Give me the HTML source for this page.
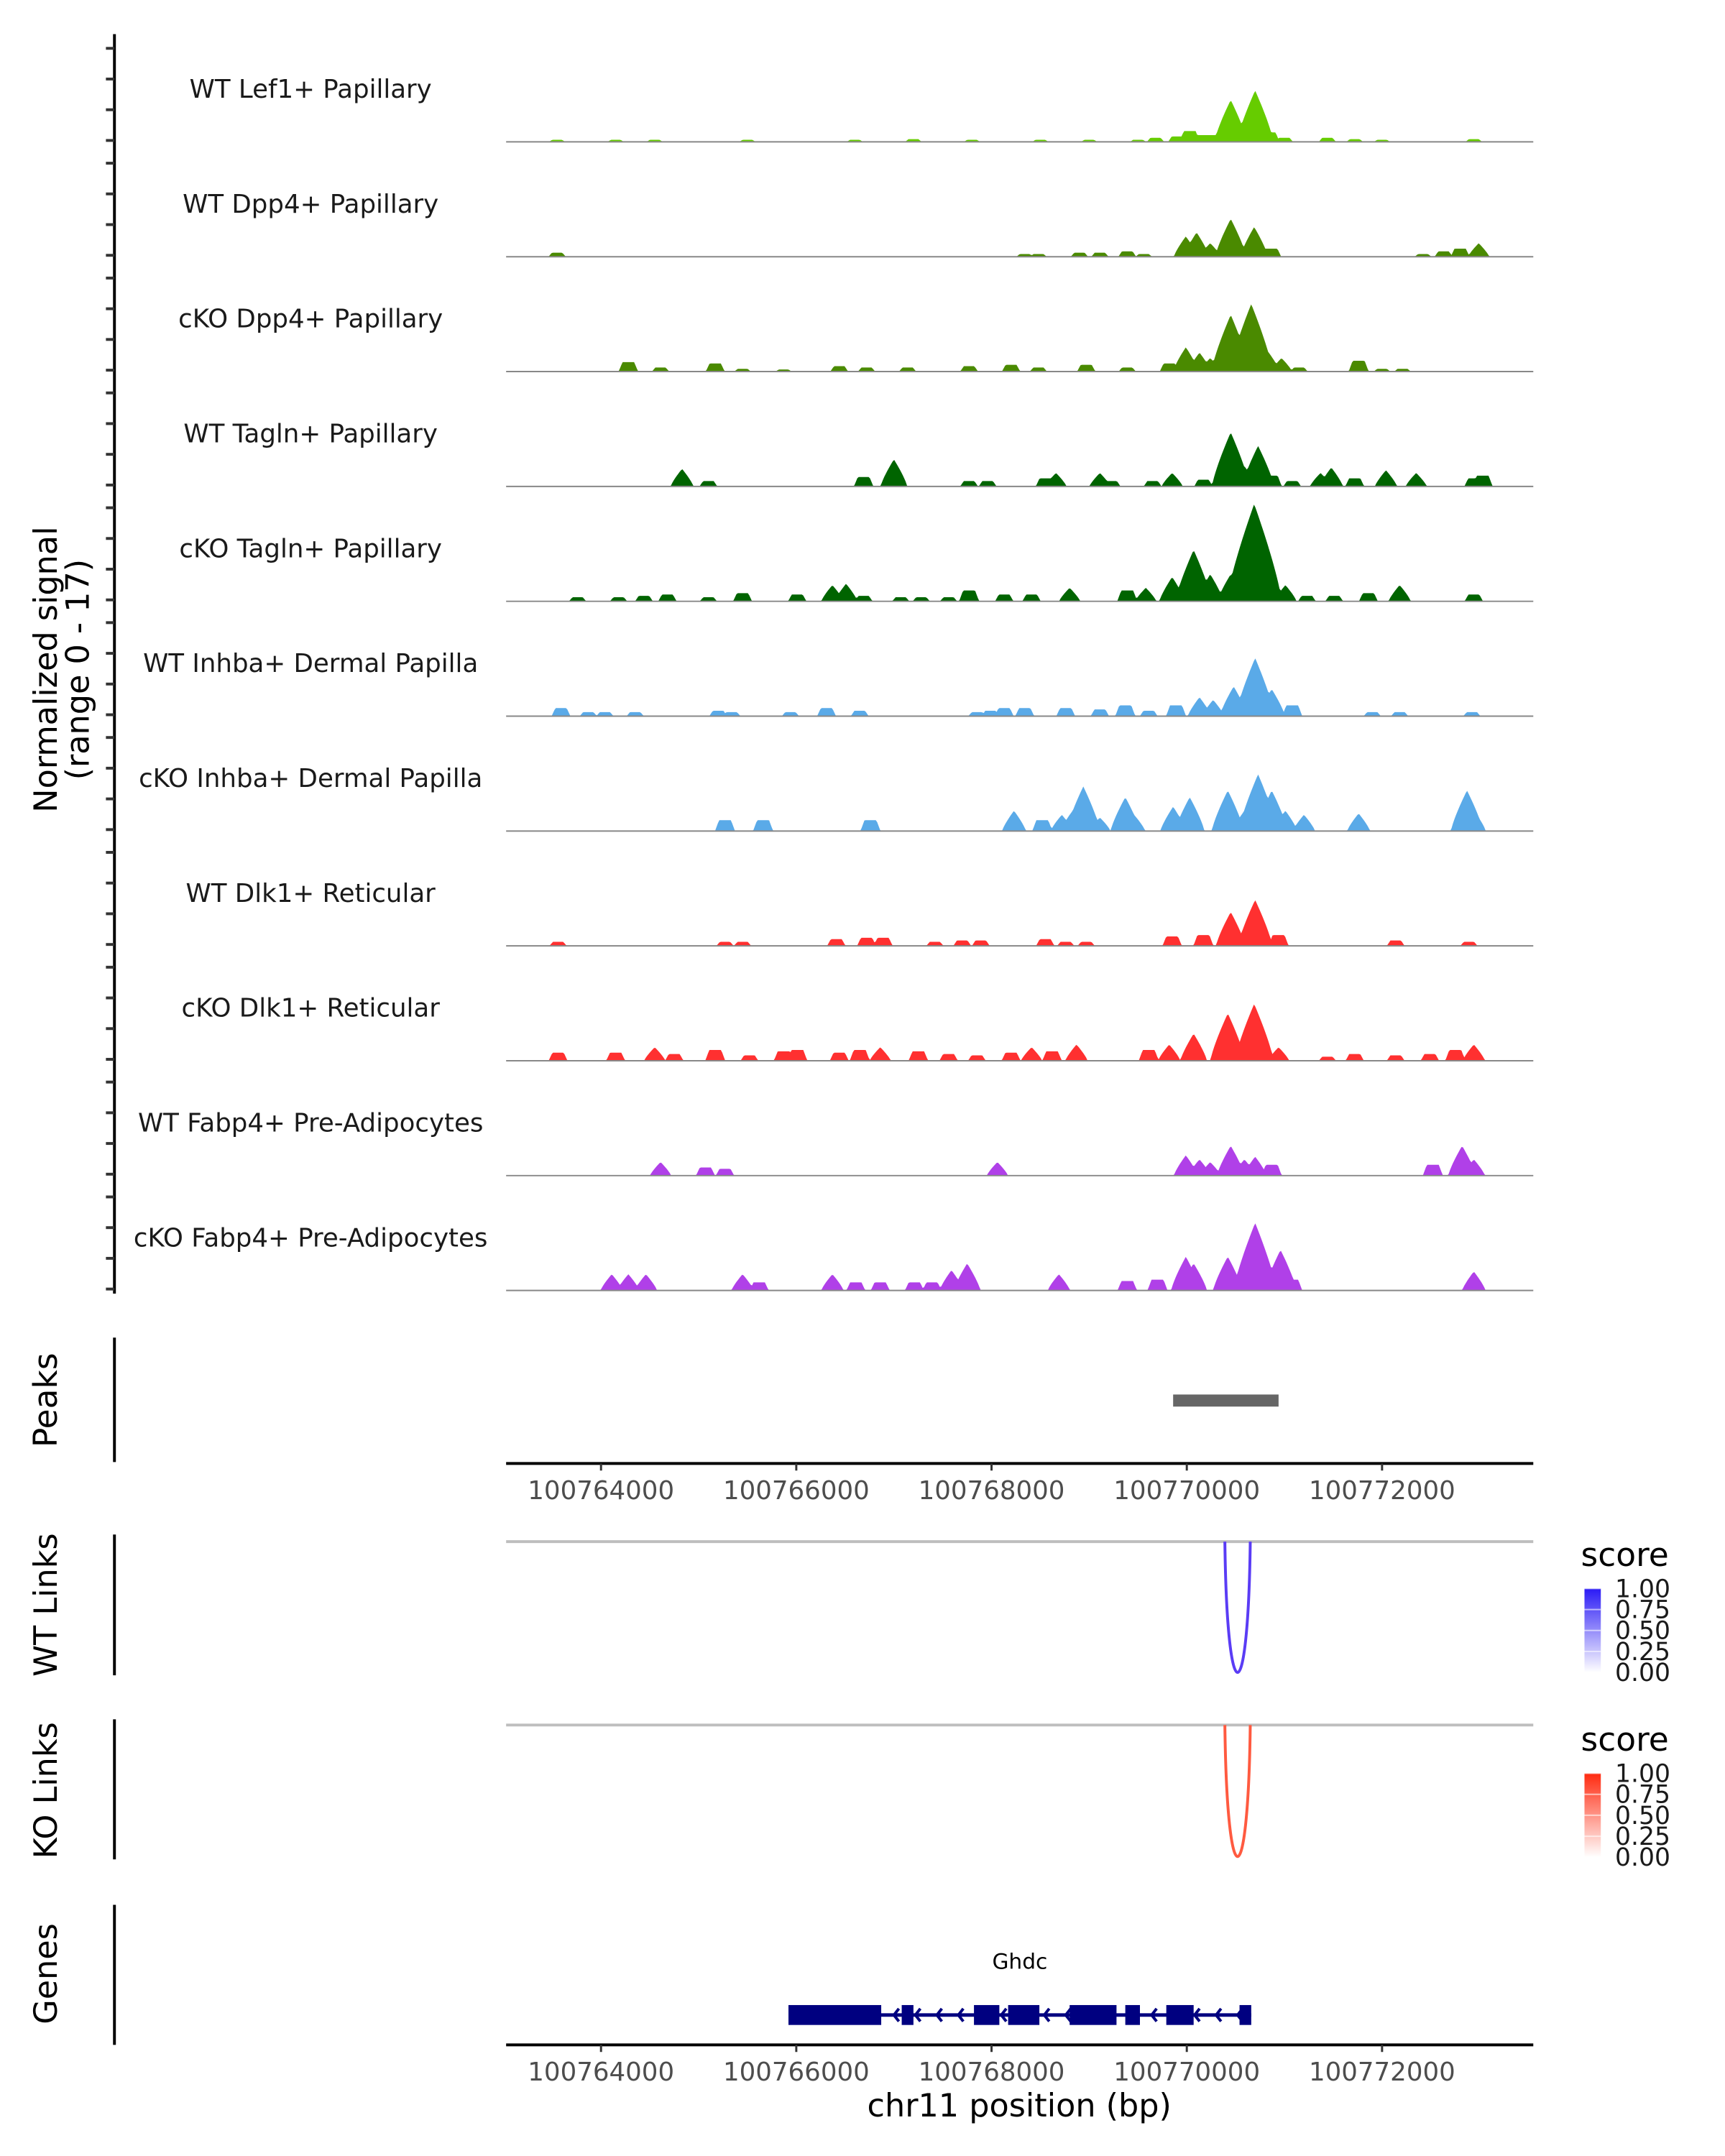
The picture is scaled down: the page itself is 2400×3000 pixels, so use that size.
<!DOCTYPE html>
<html><head><meta charset="utf-8"><style>
html,body{margin:0;padding:0;background:#fff;}
svg{display:block;font-family:"DejaVu Sans","Liberation Sans",sans-serif;}
</style></head><body>
<svg id="chart" width="2400" height="3000" viewBox="0 0 2400 3000" xmlns="http://www.w3.org/2000/svg">
<g transform="scale(0.989)">
<g id="static">
  <text transform="translate(80,942) rotate(-90)" text-anchor="middle" font-size="45" fill="#000">Normalized signal</text>
  <text transform="translate(125,942) rotate(-90)" text-anchor="middle" font-size="45" fill="#000">(range 0 - 17)</text>
  <text transform="translate(80,1970) rotate(-90)" text-anchor="middle" font-size="46" fill="#000">Peaks</text>
  <text transform="translate(80,2258) rotate(-90)" text-anchor="middle" font-size="45" fill="#000">WT Links</text>
  <text transform="translate(80,2519) rotate(-90)" text-anchor="middle" font-size="45" fill="#000">KO Links</text>
  <text transform="translate(80,2777) rotate(-90)" text-anchor="middle" font-size="45" fill="#000">Genes</text>
  <line x1="161" y1="1882" x2="161" y2="2057" stroke="#000" stroke-width="4"/>
  <line x1="161" y1="2159" x2="161" y2="2357" stroke="#000" stroke-width="4"/>
  <line x1="161" y1="2419" x2="161" y2="2616" stroke="#000" stroke-width="4"/>
  <line x1="161" y1="2680" x2="161" y2="2877" stroke="#000" stroke-width="4"/>
  <line x1="161" y1="48" x2="161" y2="1820" stroke="#000" stroke-width="4"/>
  <text x="1434" y="2978" text-anchor="middle" font-size="45" fill="#000">chr11 position (bp)</text>
  <defs>
    <linearGradient id="gblue" x1="0" y1="1" x2="0" y2="0"><stop offset="0" stop-color="#ffffff"/><stop offset="1" stop-color="#2a1af5"/></linearGradient>
    <linearGradient id="gred" x1="0" y1="1" x2="0" y2="0"><stop offset="0" stop-color="#ffffff"/><stop offset="1" stop-color="#ff2a10"/></linearGradient>
  </defs>
  <text x="2224" y="2203" font-size="46" fill="#000">score</text>
  <rect x="2229" y="2235" width="23" height="118" fill="url(#gblue)"/>
  <text x="2224" y="2463" font-size="46" fill="#000">score</text>
  <rect x="2229" y="2495" width="23" height="118" fill="url(#gred)"/>
</g>
<g id="dyn"></g>
</g>
</svg>
<script>
const regionStart = 3.028, regionEnd = 13.549;
const xTicks = [4, 6, 8, 10, 12];
const xTickLabels = ["100764000","100766000","100768000","100770000","100772000"];
const trackNames = ["WT Lef1+ Papillary","WT Dpp4+ Papillary","cKO Dpp4+ Papillary","WT Tagln+ Papillary","cKO Tagln+ Papillary","WT Inhba+ Dermal Papilla","cKO Inhba+ Dermal Papilla","WT Dlk1+ Reticular","cKO Dlk1+ Reticular","WT Fabp4+ Pre-Adipocytes","cKO Fabp4+ Pre-Adipocytes"];
const trackColors = ["#66cc00","#4a8a00","#4a8a00","#006400","#006400","#5aaae8","#5aaae8","#ff3030","#ff3030","#b040e8","#b040e8"];
const signalMax = 17;
const t1 = [[3.55,.3],[4.15,.3],[4.55,.3],[5.5,.3],[6.6,.3],[7.2,.4],[7.8,.3],[8.5,.3],[9.0,.3],[9.5,.3],[9.68,.6],[9.9,.8],[10.03,1.6],[10.15,1.0],[10.24,1.0],[10.45,6.2],[10.58,1.6],[10.70,7.6],[10.85,1.4],[11.0,.6],[11.44,.6],[11.72,.4],[12.0,.3],[12.94,.4]];
const t2 = [[3.55,.6],[8.34,.4],[8.48,.4],[8.9,.6],[9.11,.6],[9.39,.8],[9.56,.4],[9.99,3.0],[10.1,3.6],[10.24,2.0],[10.45,5.6],[10.69,4.4],[10.87,1.2],[12.42,.4],[12.63,.8],[12.8,1.2],[12.99,2.0]];
const t3 = [[4.28,1.4],[4.61,.6],[5.17,1.2],[5.45,.4],[5.87,.3],[6.44,.8],[6.72,.6],[7.14,.6],[7.77,.8],[8.2,1.0],[8.48,.6],[8.97,1.0],[9.39,.6],[9.82,1.2],[9.99,3.6],[10.13,2.8],[10.24,2.0],[10.45,8.4],[10.66,10.0],[10.83,3.0],[10.97,2.0],[11.15,.6],[11.76,1.6],[12.0,.4],[12.21,.4]];
const t4 = [[4.83,2.6],[5.1,.8],[6.69,1.4],[7.0,4.0],[7.77,.8],[7.96,.8],[8.55,1.2],[8.66,2.0],[9.11,2.0],[9.23,.8],[9.65,.8],[9.85,2.0],[10.17,1.0],[10.45,8.0],[10.59,3.0],[10.73,6.0],[10.87,1.6],[11.08,.8],[11.37,2.0],[11.48,2.8],[11.72,1.2],[12.04,2.4],[12.35,2.0],[12.94,1.2],[13.03,1.6]];
const t5 = [[3.76,.6],[4.18,.6],[4.44,.8],[4.68,1.0],[5.1,.6],[5.45,1.2],[6.01,1.0],[6.37,2.4],[6.51,2.6],[6.69,.8],[7.07,.6],[7.28,.6],[7.56,.6],[7.77,1.6],[8.13,1.0],[8.41,1.0],[8.8,2.0],[9.39,1.6],[9.58,2.0],[9.85,3.6],[10.07,7.6],[10.24,4.0],[10.45,4.0],[10.69,14.4],[10.8,6.0],[11.01,2.4],[11.23,.8],[11.51,.8],[11.86,1.2],[12.18,2.4],[12.94,1.0]];
const t6 = [[3.59,1.2],[3.87,.6],[4.04,.6],[4.35,.6],[5.2,.8],[5.34,.6],[5.94,.6],[6.31,1.2],[6.65,.8],[7.85,.6],[7.99,.8],[8.13,1.2],[8.34,1.2],[8.76,1.2],[9.11,1.0],[9.37,1.6],[9.61,.8],[9.89,1.6],[10.13,2.8],[10.27,2.4],[10.48,4.4],[10.7,8.6],[10.87,4.0],[11.08,1.6],[11.9,.6],[12.18,.6],[12.92,.6]];
const t7 = [[5.27,1.6],[5.66,1.6],[6.76,1.6],[8.23,3.0],[8.52,1.6],[8.72,2.4],[8.83,3.0],[8.94,6.6],[9.11,2.0],[9.37,5.0],[9.46,2.4],[9.86,3.6],[10.03,5.0],[10.42,6.0],[10.59,3.0],[10.73,8.4],[10.87,6.0],[11.01,3.0],[11.2,2.4],[11.76,2.6],[12.87,6.0],[12.94,3.0]];
const t8 = [[3.56,.6],[5.27,.6],[5.45,.6],[6.41,1.0],[6.72,1.2],[6.89,1.2],[7.42,.6],[7.7,.8],[7.89,.8],[8.55,1.0],[8.76,.6],[8.97,.6],[9.85,1.4],[10.17,1.6],[10.45,5.0],[10.7,6.8],[10.94,1.6],[12.14,.8],[12.89,.6]];
const t9 = [[3.56,1.2],[4.15,1.2],[4.55,2.0],[4.75,1.0],[5.17,1.6],[5.52,.8],[5.87,1.4],[6.01,1.6],[6.44,1.2],[6.65,1.6],[6.86,2.0],[7.25,1.4],[7.56,1.0],[7.85,.8],[8.2,1.2],[8.41,2.0],[8.62,1.4],[8.87,2.4],[9.61,1.6],[9.82,2.4],[10.07,4.0],[10.42,7.0],[10.69,8.4],[10.94,2.0],[11.44,.6],[11.72,1.0],[12.14,.8],[12.49,1.0],[12.75,1.6],[12.94,2.4]];
const t10 = [[4.61,2.0],[5.07,1.2],[5.27,1.0],[8.06,2.0],[9.99,3.0],[10.13,2.4],[10.24,2.0],[10.45,4.4],[10.59,2.4],[10.7,2.8],[10.87,1.6],[12.52,1.6],[12.82,4.4],[12.94,2.4]];
const t11 = [[4.11,2.4],[4.28,2.4],[4.46,2.4],[5.45,2.4],[5.62,1.2],[6.37,2.4],[6.61,1.2],[6.86,1.2],[7.21,1.2],[7.39,1.2],[7.59,3.0],[7.75,4.0],[8.69,2.4],[9.39,1.4],[9.7,1.6],[9.99,5.0],[10.07,4.0],[10.42,5.0],[10.55,2.4],[10.7,10.0],[10.8,5.0],[10.96,6.0],[11.08,1.6],[12.94,2.8]];
const tracks = [t1,t2,t3,t4,t5,t6,t7,t8,t9,t10,t11];
const peakRegion = [9.86, 10.94];
const wtLink = [10.39, 10.65];
const koLink = [10.39, 10.65];
const geneName = "Ghdc";
const geneSpan = [5.92, 10.66];
const exons = [[5.92,6.87],[7.08,7.2],[7.82,8.08],[8.17,8.49],[8.8,9.28],[9.37,9.52],[9.79,10.07],[10.54,10.66]];
const legendTicks = [1.00,0.75,0.50,0.25,0.00];

const NS = "http://www.w3.org/2000/svg";
const g = document.getElementById("dyn");
const X0 = 712, X1 = 2157;
function xs(kb){ return X0 + (kb - regionStart) / (regionEnd - regionStart) * (X1 - X0); }
const trackTop = 38, trackH = 161.6;
function baseY(i){ return trackTop + (i+1)*trackH; }
function ys(i, v){ return baseY(i) - v / signalMax * trackH; }
function mk(tag, attrs, parent){
  const e = document.createElementNS(NS, tag);
  for (const k in attrs) e.setAttribute(k, attrs[k]);
  (parent||g).appendChild(e); return e;
}

for (let i = 0; i < 11; i++){
  for (let k = 0; k < 4; k++){
    const y = baseY(i) - 2 - k * 43.2;
    const t = mk("line",{x1:149,x2:161,y1:y,y2:y,stroke:"#333","stroke-width":4});
    
    
  }
}

tracks.forEach((peaks, i) => {
  const pts = [];
  for (let px = X0; px <= X1; px += 2){
    const kb = regionStart + (px - X0) / (X1 - X0) * (regionEnd - regionStart);
    let v = 0;
    peaks.forEach(p => {
      const w = 0.08 + 0.014 * p[1];
      const t = Math.abs(kb - p[0]) / w;
      if (t < 1){
        const val = p[1] < 1.8 ? p[1] * Math.min(1, 2.5 * (1 - t)) : p[1] * Math.pow(1 - t, 0.8);
        if (val > v) v = val;
      }
    });
    pts.push(px.toFixed(1) + "," + ys(i, v).toFixed(1));
  }
  const poly = mk("polygon",{points: X0+","+baseY(i)+" "+pts.join(" ")+" "+X1+","+baseY(i), fill:trackColors[i]});
  
  
  const bl = mk("line",{x1:X0,x2:X1,y1:baseY(i),y2:baseY(i),stroke:"#888","stroke-width":2});
  
  
  const lab = mk("text",{x:437,y:baseY(i)-62,"text-anchor":"middle","font-size":36,fill:"#1a1a1a"});
  lab.textContent = trackNames[i];
  
  
});

const pk = mk("rect",{x:xs(peakRegion[0]),y:1962,width:xs(peakRegion[1])-xs(peakRegion[0]),height:17,fill:"#666"});



function xAxis(y, name){
  const a = mk("line",{x1:X0,x2:X1,y1:y,y2:y,stroke:"#000","stroke-width":4});
  
  
  xTicks.forEach((t,k) => {
    const tk = mk("line",{x1:xs(t),x2:xs(t),y1:y,y2:y+10,stroke:"#333","stroke-width":3});
    
    
    const tl = mk("text",{x:xs(t),y:y+50,"text-anchor":"middle","font-size":36,fill:"#4d4d4d"});
    tl.textContent = xTickLabels[k];
    
    
  });
}
xAxis(2059, 'peaks-x-axis');
xAxis(2877, 'bottom-x-axis');

function links(yTop, yBot, link, color, name){
  const l = mk("line",{x1:X0,x2:X1,y1:yTop,y2:yTop,stroke:"#bebebe","stroke-width":4});
  
  
  const a = xs(link[0]), b = xs(link[1]);
  const cy = yTop + (yBot - yTop) / 0.75;
  const d = "M"+a+","+yTop+" C"+(a+3)+","+cy+" "+(b-3)+","+cy+" "+b+","+yTop;
  const p = mk("path",{d:d,fill:"none",stroke:color,"stroke-width":4});
  
  
}
links(2169, 2353, wtLink, "#5a3cf5", 'wt-link');
links(2427, 2612, koLink, "#ff5a40", 'ko-link');

function legend(top){
  legendTicks.forEach((v,k) => {
    const y = top + (1 - v) * 118;
    const tl = mk("text",{x:2272,y:y+12,"font-size":35,fill:"#1a1a1a"});
    tl.textContent = v.toFixed(2);
    
    
    const tk = mk("line",{x1:2229,x2:2252,y1:y,y2:y,stroke:"#fff","stroke-width":2,"stroke-opacity":0.6});
    
    
  });
}
legend(2235); legend(2495);

const gy = 2835;
const gl = mk("line",{x1:xs(geneSpan[0]),x2:xs(geneSpan[1]),y1:gy,y2:gy,stroke:"#000080","stroke-width":5});


for (let kb = geneSpan[0] + 0.2; kb < geneSpan[1]; kb += 0.22){
  const x = xs(kb);
  const ch = mk("path",{d:"M"+(x+7)+","+(gy-9)+" L"+x+","+gy+" L"+(x+7)+","+(gy+9),fill:"none",stroke:"#000080","stroke-width":4});
  
  
}
exons.forEach(e => {
  const r = mk("rect",{x:xs(e[0]),y:gy-14,width:xs(e[1])-xs(e[0]),height:28,fill:"#000080"});
  
  
});
const gn = mk("text",{x:(xs(geneSpan[0])+xs(geneSpan[1]))/2,y:2770,"text-anchor":"middle","font-size":30,fill:"#000"});
gn.textContent = geneName;


</script>
</body></html>
